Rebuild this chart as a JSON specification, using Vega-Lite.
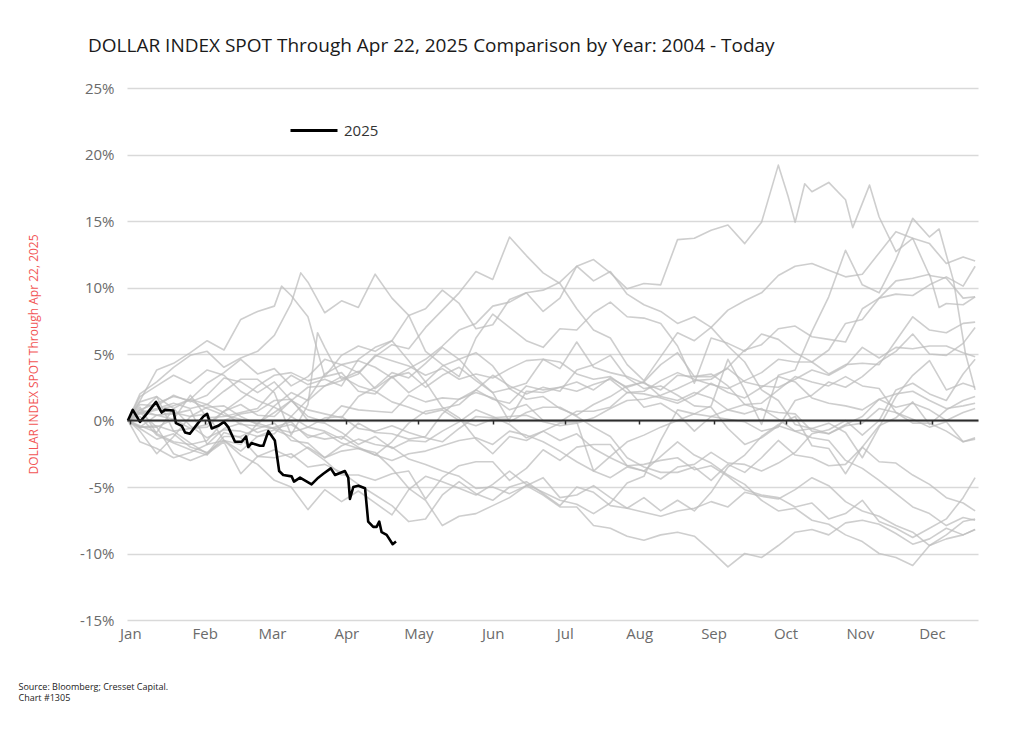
{
"$schema": "https://vega.github.io/schema/vega-lite/v6.json",
"autosize": {"type": "none"},
"width": 851,
"height": 532,
"padding": {"left": 127, "top": 88, "right": 46, "bottom": 122},
"background": "white",
"title": {"text": "DOLLAR INDEX SPOT Through Apr 22, 2025 Comparison by Year: 2004 - Today", "anchor": "start", "frame": "group", "dx": -39, "offset": 10, "baseline": "alphabetic", "font": "Open Sans", "fontSize": 19, "fontWeight": "normal", "color": "#1a1a1a"},
"config": {"view": {"stroke": null}, "font": "Open Sans"},
"datasets": {"dxy": [
{"year":"2004","day":-1,"pct":0},{"year":"2004","day":4,"pct":-0.8},{"year":"2004","day":11,"pct":-2.5},{"year":"2004","day":18,"pct":-1.2},{"year":"2004","day":25,"pct":0.3},{"year":"2004","day":32,"pct":0.5},{"year":"2004","day":39,"pct":-1.5},{"year":"2004","day":46,"pct":-1.8},{"year":"2004","day":53,"pct":-0.2},{"year":"2004","day":60,"pct":0.6},{"year":"2004","day":67,"pct":1.5},{"year":"2004","day":74,"pct":0.8},{"year":"2004","day":81,"pct":0.5},{"year":"2004","day":88,"pct":0.2},{"year":"2004","day":95,"pct":1.8},{"year":"2004","day":102,"pct":2.5},{"year":"2004","day":109,"pct":3.6},{"year":"2004","day":116,"pct":3.2},{"year":"2004","day":123,"pct":4.3},{"year":"2004","day":130,"pct":5.5},{"year":"2004","day":137,"pct":4.6},{"year":"2004","day":144,"pct":3.2},{"year":"2004","day":151,"pct":2.1},{"year":"2004","day":158,"pct":2.4},{"year":"2004","day":165,"pct":1.6},{"year":"2004","day":172,"pct":1.8},{"year":"2004","day":179,"pct":0.9},{"year":"2004","day":186,"pct":0.4},{"year":"2004","day":193,"pct":1.2},{"year":"2004","day":200,"pct":1.8},{"year":"2004","day":207,"pct":2.6},{"year":"2004","day":214,"pct":2.9},{"year":"2004","day":221,"pct":1.8},{"year":"2004","day":228,"pct":1.5},{"year":"2004","day":235,"pct":2.1},{"year":"2004","day":242,"pct":1.7},{"year":"2004","day":249,"pct":0.8},{"year":"2004","day":256,"pct":0.5},{"year":"2004","day":263,"pct":0.9},{"year":"2004","day":270,"pct":0.1},{"year":"2004","day":277,"pct":-0.8},{"year":"2004","day":284,"pct":-1.3},{"year":"2004","day":291,"pct":-1.5},{"year":"2004","day":298,"pct":-3.0},{"year":"2004","day":305,"pct":-3.6},{"year":"2004","day":312,"pct":-4.5},{"year":"2004","day":319,"pct":-5.5},{"year":"2004","day":326,"pct":-6.5},{"year":"2004","day":333,"pct":-7.0},{"year":"2004","day":340,"pct":-7.9},{"year":"2004","day":347,"pct":-7.3},{"year":"2004","day":352,"pct":-7.5},
{"year":"2005","day":-1,"pct":0},{"year":"2005","day":4,"pct":1.8},{"year":"2005","day":11,"pct":2.6},{"year":"2005","day":18,"pct":3.4},{"year":"2005","day":25,"pct":2.8},{"year":"2005","day":32,"pct":3.8},{"year":"2005","day":39,"pct":3.4},{"year":"2005","day":46,"pct":2.2},{"year":"2005","day":53,"pct":1.5},{"year":"2005","day":60,"pct":1.0},{"year":"2005","day":67,"pct":0.3},{"year":"2005","day":74,"pct":1.6},{"year":"2005","day":81,"pct":3.5},{"year":"2005","day":88,"pct":4.2},{"year":"2005","day":95,"pct":4.5},{"year":"2005","day":102,"pct":4.0},{"year":"2005","day":109,"pct":3.2},{"year":"2005","day":116,"pct":3.9},{"year":"2005","day":123,"pct":4.6},{"year":"2005","day":130,"pct":5.6},{"year":"2005","day":137,"pct":6.8},{"year":"2005","day":144,"pct":7.3},{"year":"2005","day":151,"pct":8.6},{"year":"2005","day":158,"pct":8.9},{"year":"2005","day":165,"pct":9.6},{"year":"2005","day":172,"pct":9.8},{"year":"2005","day":179,"pct":10.4},{"year":"2005","day":186,"pct":11.6},{"year":"2005","day":193,"pct":10.5},{"year":"2005","day":200,"pct":11.2},{"year":"2005","day":207,"pct":9.5},{"year":"2005","day":214,"pct":8.7},{"year":"2005","day":221,"pct":8.2},{"year":"2005","day":228,"pct":7.3},{"year":"2005","day":235,"pct":7.8},{"year":"2005","day":242,"pct":7.0},{"year":"2005","day":249,"pct":8.3},{"year":"2005","day":256,"pct":9.0},{"year":"2005","day":263,"pct":9.6},{"year":"2005","day":270,"pct":10.9},{"year":"2005","day":277,"pct":11.6},{"year":"2005","day":284,"pct":11.8},{"year":"2005","day":291,"pct":11.3},{"year":"2005","day":298,"pct":10.8},{"year":"2005","day":305,"pct":11.0},{"year":"2005","day":312,"pct":12.6},{"year":"2005","day":319,"pct":14.2},{"year":"2005","day":326,"pct":13.7},{"year":"2005","day":333,"pct":13.3},{"year":"2005","day":340,"pct":11.8},{"year":"2005","day":347,"pct":12.3},{"year":"2005","day":352,"pct":12.0},
{"year":"2006","day":-1,"pct":0},{"year":"2006","day":4,"pct":-1.6},{"year":"2006","day":11,"pct":-2.1},{"year":"2006","day":18,"pct":-2.8},{"year":"2006","day":25,"pct":-2.4},{"year":"2006","day":32,"pct":-1.8},{"year":"2006","day":39,"pct":-0.6},{"year":"2006","day":46,"pct":-0.2},{"year":"2006","day":53,"pct":-0.9},{"year":"2006","day":60,"pct":-0.5},{"year":"2006","day":67,"pct":-0.1},{"year":"2006","day":74,"pct":-1.3},{"year":"2006","day":81,"pct":-0.9},{"year":"2006","day":88,"pct":-1.7},{"year":"2006","day":95,"pct":-2.1},{"year":"2006","day":102,"pct":-2.4},{"year":"2006","day":109,"pct":-3.6},{"year":"2006","day":116,"pct":-5.1},{"year":"2006","day":123,"pct":-6.0},{"year":"2006","day":130,"pct":-7.9},{"year":"2006","day":137,"pct":-7.2},{"year":"2006","day":144,"pct":-7.0},{"year":"2006","day":151,"pct":-6.4},{"year":"2006","day":158,"pct":-5.8},{"year":"2006","day":165,"pct":-4.9},{"year":"2006","day":172,"pct":-4.3},{"year":"2006","day":179,"pct":-5.8},{"year":"2006","day":186,"pct":-5.6},{"year":"2006","day":193,"pct":-4.9},{"year":"2006","day":200,"pct":-5.8},{"year":"2006","day":207,"pct":-6.6},{"year":"2006","day":214,"pct":-6.9},{"year":"2006","day":221,"pct":-7.2},{"year":"2006","day":228,"pct":-6.8},{"year":"2006","day":235,"pct":-6.6},{"year":"2006","day":242,"pct":-6.1},{"year":"2006","day":249,"pct":-6.5},{"year":"2006","day":256,"pct":-5.4},{"year":"2006","day":263,"pct":-5.7},{"year":"2006","day":270,"pct":-5.9},{"year":"2006","day":277,"pct":-5.2},{"year":"2006","day":284,"pct":-4.3},{"year":"2006","day":291,"pct":-4.9},{"year":"2006","day":298,"pct":-6.1},{"year":"2006","day":305,"pct":-6.8},{"year":"2006","day":312,"pct":-7.2},{"year":"2006","day":319,"pct":-7.9},{"year":"2006","day":326,"pct":-8.4},{"year":"2006","day":333,"pct":-9.4},{"year":"2006","day":340,"pct":-8.9},{"year":"2006","day":347,"pct":-8.6},{"year":"2006","day":352,"pct":-8.2},
{"year":"2007","day":-1,"pct":0},{"year":"2007","day":4,"pct":0.8},{"year":"2007","day":11,"pct":1.3},{"year":"2007","day":18,"pct":1.8},{"year":"2007","day":25,"pct":1.5},{"year":"2007","day":32,"pct":0.9},{"year":"2007","day":39,"pct":0.4},{"year":"2007","day":46,"pct":0.1},{"year":"2007","day":53,"pct":-0.2},{"year":"2007","day":60,"pct":-0.6},{"year":"2007","day":67,"pct":-0.3},{"year":"2007","day":74,"pct":-1.1},{"year":"2007","day":81,"pct":-1.4},{"year":"2007","day":88,"pct":-1.2},{"year":"2007","day":95,"pct":-2.0},{"year":"2007","day":102,"pct":-2.6},{"year":"2007","day":109,"pct":-3.0},{"year":"2007","day":116,"pct":-2.5},{"year":"2007","day":123,"pct":-2.3},{"year":"2007","day":130,"pct":-1.9},{"year":"2007","day":137,"pct":-1.5},{"year":"2007","day":144,"pct":-1.3},{"year":"2007","day":151,"pct":-1.8},{"year":"2007","day":158,"pct":-0.8},{"year":"2007","day":165,"pct":-1.1},{"year":"2007","day":172,"pct":-1.6},{"year":"2007","day":179,"pct":-2.3},{"year":"2007","day":186,"pct":-3.1},{"year":"2007","day":193,"pct":-3.8},{"year":"2007","day":200,"pct":-4.3},{"year":"2007","day":207,"pct":-3.5},{"year":"2007","day":214,"pct":-3.8},{"year":"2007","day":221,"pct":-2.7},{"year":"2007","day":228,"pct":-1.6},{"year":"2007","day":235,"pct":-2.6},{"year":"2007","day":242,"pct":-3.2},{"year":"2007","day":249,"pct":-4.1},{"year":"2007","day":256,"pct":-4.8},{"year":"2007","day":263,"pct":-6.0},{"year":"2007","day":270,"pct":-6.8},{"year":"2007","day":277,"pct":-6.6},{"year":"2007","day":284,"pct":-7.5},{"year":"2007","day":291,"pct":-7.8},{"year":"2007","day":298,"pct":-8.6},{"year":"2007","day":305,"pct":-9.1},{"year":"2007","day":312,"pct":-10.0},{"year":"2007","day":319,"pct":-10.3},{"year":"2007","day":326,"pct":-10.9},{"year":"2007","day":333,"pct":-9.4},{"year":"2007","day":340,"pct":-8.6},{"year":"2007","day":347,"pct":-7.6},{"year":"2007","day":352,"pct":-7.4},
{"year":"2008","day":-1,"pct":0},{"year":"2008","day":4,"pct":-0.6},{"year":"2008","day":11,"pct":-1.4},{"year":"2008","day":18,"pct":-1.0},{"year":"2008","day":25,"pct":-2.0},{"year":"2008","day":32,"pct":-2.4},{"year":"2008","day":39,"pct":-1.5},{"year":"2008","day":46,"pct":-2.6},{"year":"2008","day":53,"pct":-3.3},{"year":"2008","day":60,"pct":-4.5},{"year":"2008","day":67,"pct":-5.0},{"year":"2008","day":74,"pct":-6.7},{"year":"2008","day":81,"pct":-5.2},{"year":"2008","day":88,"pct":-6.1},{"year":"2008","day":95,"pct":-5.3},{"year":"2008","day":102,"pct":-6.2},{"year":"2008","day":109,"pct":-7.1},{"year":"2008","day":116,"pct":-5.2},{"year":"2008","day":123,"pct":-4.2},{"year":"2008","day":130,"pct":-4.6},{"year":"2008","day":137,"pct":-5.1},{"year":"2008","day":144,"pct":-5.6},{"year":"2008","day":151,"pct":-4.8},{"year":"2008","day":158,"pct":-3.8},{"year":"2008","day":165,"pct":-4.8},{"year":"2008","day":172,"pct":-5.4},{"year":"2008","day":179,"pct":-6.0},{"year":"2008","day":186,"pct":-6.3},{"year":"2008","day":193,"pct":-7.0},{"year":"2008","day":200,"pct":-6.2},{"year":"2008","day":207,"pct":-4.7},{"year":"2008","day":214,"pct":-4.2},{"year":"2008","day":221,"pct":-1.5},{"year":"2008","day":228,"pct":0.8},{"year":"2008","day":235,"pct":0.5},{"year":"2008","day":242,"pct":1.1},{"year":"2008","day":249,"pct":4.6},{"year":"2008","day":256,"pct":2.3},{"year":"2008","day":263,"pct":-0.3},{"year":"2008","day":270,"pct":3.4},{"year":"2008","day":277,"pct":3.8},{"year":"2008","day":284,"pct":6.7},{"year":"2008","day":291,"pct":9.3},{"year":"2008","day":298,"pct":12.8},{"year":"2008","day":305,"pct":10.2},{"year":"2008","day":312,"pct":9.6},{"year":"2008","day":319,"pct":12.1},{"year":"2008","day":326,"pct":15.2},{"year":"2008","day":333,"pct":13.8},{"year":"2008","day":337,"pct":14.4},{"year":"2008","day":343,"pct":10.5},{"year":"2008","day":348,"pct":5.0},{"year":"2008","day":352,"pct":2.3},
{"year":"2009","day":-1,"pct":0},{"year":"2009","day":4,"pct":1.5},{"year":"2009","day":11,"pct":3.8},{"year":"2009","day":18,"pct":4.3},{"year":"2009","day":25,"pct":5.1},{"year":"2009","day":32,"pct":6.0},{"year":"2009","day":39,"pct":5.3},{"year":"2009","day":46,"pct":7.6},{"year":"2009","day":53,"pct":8.2},{"year":"2009","day":60,"pct":8.6},{"year":"2009","day":63,"pct":10.1},{"year":"2009","day":67,"pct":9.4},{"year":"2009","day":74,"pct":7.8},{"year":"2009","day":81,"pct":3.3},{"year":"2009","day":88,"pct":4.9},{"year":"2009","day":95,"pct":5.6},{"year":"2009","day":102,"pct":5.2},{"year":"2009","day":109,"pct":6.0},{"year":"2009","day":116,"pct":4.5},{"year":"2009","day":123,"pct":2.9},{"year":"2009","day":130,"pct":1.0},{"year":"2009","day":137,"pct":0.2},{"year":"2009","day":144,"pct":-1.4},{"year":"2009","day":151,"pct":-2.5},{"year":"2009","day":158,"pct":-1.2},{"year":"2009","day":165,"pct":-1.5},{"year":"2009","day":172,"pct":-0.8},{"year":"2009","day":179,"pct":-1.5},{"year":"2009","day":186,"pct":-1.0},{"year":"2009","day":193,"pct":-2.1},{"year":"2009","day":200,"pct":-2.8},{"year":"2009","day":207,"pct":-3.4},{"year":"2009","day":214,"pct":-3.3},{"year":"2009","day":221,"pct":-3.0},{"year":"2009","day":228,"pct":-2.8},{"year":"2009","day":235,"pct":-3.7},{"year":"2009","day":242,"pct":-3.4},{"year":"2009","day":249,"pct":-4.2},{"year":"2009","day":256,"pct":-5.2},{"year":"2009","day":263,"pct":-5.6},{"year":"2009","day":270,"pct":-5.8},{"year":"2009","day":277,"pct":-6.5},{"year":"2009","day":284,"pct":-6.2},{"year":"2009","day":291,"pct":-7.4},{"year":"2009","day":298,"pct":-7.0},{"year":"2009","day":305,"pct":-6.0},{"year":"2009","day":312,"pct":-7.6},{"year":"2009","day":319,"pct":-8.1},{"year":"2009","day":326,"pct":-8.8},{"year":"2009","day":333,"pct":-8.1},{"year":"2009","day":340,"pct":-7.4},{"year":"2009","day":347,"pct":-5.8},{"year":"2009","day":352,"pct":-4.3},
{"year":"2010","day":-1,"pct":0},{"year":"2010","day":4,"pct":-0.4},{"year":"2010","day":11,"pct":-0.9},{"year":"2010","day":18,"pct":0.9},{"year":"2010","day":25,"pct":1.6},{"year":"2010","day":32,"pct":2.8},{"year":"2010","day":39,"pct":3.6},{"year":"2010","day":46,"pct":4.6},{"year":"2010","day":53,"pct":3.5},{"year":"2010","day":60,"pct":3.9},{"year":"2010","day":67,"pct":2.6},{"year":"2010","day":74,"pct":3.3},{"year":"2010","day":81,"pct":4.6},{"year":"2010","day":88,"pct":4.2},{"year":"2010","day":95,"pct":3.6},{"year":"2010","day":102,"pct":4.8},{"year":"2010","day":109,"pct":5.7},{"year":"2010","day":116,"pct":5.4},{"year":"2010","day":123,"pct":7.0},{"year":"2010","day":130,"pct":8.3},{"year":"2010","day":137,"pct":9.6},{"year":"2010","day":144,"pct":11.2},{"year":"2010","day":151,"pct":10.6},{"year":"2010","day":158,"pct":13.8},{"year":"2010","day":165,"pct":12.4},{"year":"2010","day":172,"pct":11.1},{"year":"2010","day":179,"pct":10.3},{"year":"2010","day":186,"pct":8.4},{"year":"2010","day":193,"pct":6.8},{"year":"2010","day":200,"pct":6.2},{"year":"2010","day":207,"pct":4.2},{"year":"2010","day":214,"pct":3.0},{"year":"2010","day":221,"pct":4.8},{"year":"2010","day":228,"pct":6.6},{"year":"2010","day":235,"pct":6.0},{"year":"2010","day":242,"pct":7.0},{"year":"2010","day":249,"pct":5.6},{"year":"2010","day":256,"pct":4.4},{"year":"2010","day":263,"pct":2.3},{"year":"2010","day":270,"pct":1.5},{"year":"2010","day":277,"pct":-0.3},{"year":"2010","day":284,"pct":-0.6},{"year":"2010","day":291,"pct":-0.2},{"year":"2010","day":298,"pct":-0.9},{"year":"2010","day":305,"pct":-2.8},{"year":"2010","day":312,"pct":-0.5},{"year":"2010","day":319,"pct":1.8},{"year":"2010","day":326,"pct":3.4},{"year":"2010","day":333,"pct":4.5},{"year":"2010","day":340,"pct":2.3},{"year":"2010","day":347,"pct":2.8},{"year":"2010","day":352,"pct":2.5},
{"year":"2011","day":-1,"pct":0},{"year":"2011","day":4,"pct":1.4},{"year":"2011","day":11,"pct":1.8},{"year":"2011","day":18,"pct":-0.8},{"year":"2011","day":25,"pct":-1.7},{"year":"2011","day":32,"pct":-2.5},{"year":"2011","day":39,"pct":-0.9},{"year":"2011","day":46,"pct":-1.3},{"year":"2011","day":53,"pct":-2.7},{"year":"2011","day":60,"pct":-2.8},{"year":"2011","day":67,"pct":-2.5},{"year":"2011","day":74,"pct":-3.5},{"year":"2011","day":81,"pct":-3.3},{"year":"2011","day":88,"pct":-3.9},{"year":"2011","day":95,"pct":-4.8},{"year":"2011","day":102,"pct":-5.6},{"year":"2011","day":109,"pct":-6.4},{"year":"2011","day":116,"pct":-7.6},{"year":"2011","day":123,"pct":-7.4},{"year":"2011","day":130,"pct":-5.6},{"year":"2011","day":137,"pct":-4.6},{"year":"2011","day":144,"pct":-5.5},{"year":"2011","day":151,"pct":-6.0},{"year":"2011","day":158,"pct":-5.0},{"year":"2011","day":165,"pct":-4.6},{"year":"2011","day":172,"pct":-5.5},{"year":"2011","day":179,"pct":-6.4},{"year":"2011","day":186,"pct":-5.0},{"year":"2011","day":193,"pct":-5.4},{"year":"2011","day":200,"pct":-6.4},{"year":"2011","day":207,"pct":-6.6},{"year":"2011","day":214,"pct":-5.8},{"year":"2011","day":221,"pct":-6.8},{"year":"2011","day":228,"pct":-6.0},{"year":"2011","day":235,"pct":-6.8},{"year":"2011","day":242,"pct":-5.4},{"year":"2011","day":249,"pct":-3.5},{"year":"2011","day":256,"pct":-2.6},{"year":"2011","day":263,"pct":-1.2},{"year":"2011","day":270,"pct":-0.3},{"year":"2011","day":277,"pct":0.3},{"year":"2011","day":284,"pct":-1.9},{"year":"2011","day":291,"pct":-2.1},{"year":"2011","day":298,"pct":-4.0},{"year":"2011","day":305,"pct":-2.0},{"year":"2011","day":312,"pct":-0.4},{"year":"2011","day":319,"pct":0.2},{"year":"2011","day":326,"pct":1.4},{"year":"2011","day":333,"pct":-0.3},{"year":"2011","day":340,"pct":0.8},{"year":"2011","day":347,"pct":1.5},{"year":"2011","day":352,"pct":1.8},
{"year":"2012","day":-1,"pct":0},{"year":"2012","day":4,"pct":0.6},{"year":"2012","day":11,"pct":1.8},{"year":"2012","day":18,"pct":0.9},{"year":"2012","day":25,"pct":-0.4},{"year":"2012","day":32,"pct":-1.3},{"year":"2012","day":39,"pct":-0.7},{"year":"2012","day":46,"pct":-0.8},{"year":"2012","day":53,"pct":-1.2},{"year":"2012","day":60,"pct":-1.0},{"year":"2012","day":67,"pct":0.3},{"year":"2012","day":74,"pct":-0.5},{"year":"2012","day":81,"pct":-0.8},{"year":"2012","day":88,"pct":-1.4},{"year":"2012","day":95,"pct":-0.2},{"year":"2012","day":102,"pct":-0.9},{"year":"2012","day":109,"pct":-1.0},{"year":"2012","day":116,"pct":-1.4},{"year":"2012","day":123,"pct":-1.2},{"year":"2012","day":130,"pct":0.5},{"year":"2012","day":137,"pct":1.6},{"year":"2012","day":144,"pct":2.3},{"year":"2012","day":151,"pct":3.4},{"year":"2012","day":158,"pct":2.6},{"year":"2012","day":165,"pct":2.0},{"year":"2012","day":172,"pct":2.5},{"year":"2012","day":179,"pct":2.2},{"year":"2012","day":186,"pct":3.8},{"year":"2012","day":193,"pct":4.2},{"year":"2012","day":200,"pct":4.9},{"year":"2012","day":207,"pct":3.2},{"year":"2012","day":214,"pct":2.4},{"year":"2012","day":221,"pct":2.6},{"year":"2012","day":228,"pct":1.9},{"year":"2012","day":235,"pct":1.1},{"year":"2012","day":242,"pct":1.0},{"year":"2012","day":249,"pct":-0.6},{"year":"2012","day":256,"pct":-1.8},{"year":"2012","day":263,"pct":-1.3},{"year":"2012","day":270,"pct":-0.4},{"year":"2012","day":277,"pct":-0.8},{"year":"2012","day":284,"pct":-0.6},{"year":"2012","day":291,"pct":-1.0},{"year":"2012","day":298,"pct":-0.4},{"year":"2012","day":305,"pct":-0.2},{"year":"2012","day":312,"pct":0.9},{"year":"2012","day":319,"pct":0.6},{"year":"2012","day":326,"pct":-0.2},{"year":"2012","day":333,"pct":-0.2},{"year":"2012","day":340,"pct":-0.8},{"year":"2012","day":347,"pct":-1.6},{"year":"2012","day":352,"pct":-1.4},
{"year":"2013","day":-1,"pct":0},{"year":"2013","day":4,"pct":0.8},{"year":"2013","day":11,"pct":0.4},{"year":"2013","day":18,"pct":0.1},{"year":"2013","day":25,"pct":-0.6},{"year":"2013","day":32,"pct":-0.3},{"year":"2013","day":39,"pct":0.7},{"year":"2013","day":46,"pct":1.6},{"year":"2013","day":53,"pct":2.6},{"year":"2013","day":60,"pct":3.4},{"year":"2013","day":67,"pct":3.6},{"year":"2013","day":74,"pct":3.0},{"year":"2013","day":81,"pct":3.3},{"year":"2013","day":88,"pct":3.6},{"year":"2013","day":95,"pct":2.2},{"year":"2013","day":102,"pct":2.0},{"year":"2013","day":109,"pct":3.3},{"year":"2013","day":116,"pct":2.1},{"year":"2013","day":123,"pct":2.9},{"year":"2013","day":130,"pct":4.1},{"year":"2013","day":137,"pct":4.6},{"year":"2013","day":144,"pct":5.1},{"year":"2013","day":151,"pct":4.1},{"year":"2013","day":158,"pct":2.4},{"year":"2013","day":165,"pct":2.8},{"year":"2013","day":172,"pct":4.6},{"year":"2013","day":179,"pct":3.9},{"year":"2013","day":186,"pct":5.9},{"year":"2013","day":193,"pct":4.0},{"year":"2013","day":200,"pct":3.6},{"year":"2013","day":207,"pct":3.3},{"year":"2013","day":214,"pct":2.8},{"year":"2013","day":221,"pct":2.3},{"year":"2013","day":228,"pct":3.4},{"year":"2013","day":235,"pct":3.3},{"year":"2013","day":242,"pct":3.5},{"year":"2013","day":249,"pct":2.6},{"year":"2013","day":256,"pct":1.2},{"year":"2013","day":263,"pct":0.8},{"year":"2013","day":270,"pct":0.6},{"year":"2013","day":277,"pct":0.5},{"year":"2013","day":284,"pct":-0.8},{"year":"2013","day":291,"pct":-1.0},{"year":"2013","day":298,"pct":-0.3},{"year":"2013","day":305,"pct":0.3},{"year":"2013","day":312,"pct":1.6},{"year":"2013","day":319,"pct":1.0},{"year":"2013","day":326,"pct":1.3},{"year":"2013","day":333,"pct":0.8},{"year":"2013","day":340,"pct":0.0},{"year":"2013","day":347,"pct":0.6},{"year":"2013","day":352,"pct":0.9},
{"year":"2014","day":-1,"pct":0},{"year":"2014","day":4,"pct":0.6},{"year":"2014","day":11,"pct":0.9},{"year":"2014","day":18,"pct":1.3},{"year":"2014","day":25,"pct":0.9},{"year":"2014","day":32,"pct":1.2},{"year":"2014","day":39,"pct":0.6},{"year":"2014","day":46,"pct":-0.3},{"year":"2014","day":53,"pct":-0.4},{"year":"2014","day":60,"pct":-0.6},{"year":"2014","day":67,"pct":-0.9},{"year":"2014","day":74,"pct":-0.5},{"year":"2014","day":81,"pct":0.2},{"year":"2014","day":88,"pct":0.3},{"year":"2014","day":95,"pct":-0.6},{"year":"2014","day":102,"pct":-0.8},{"year":"2014","day":109,"pct":-0.4},{"year":"2014","day":116,"pct":-0.9},{"year":"2014","day":123,"pct":-1.3},{"year":"2014","day":130,"pct":-1.6},{"year":"2014","day":137,"pct":-0.6},{"year":"2014","day":144,"pct":0.3},{"year":"2014","day":151,"pct":0.2},{"year":"2014","day":158,"pct":0.3},{"year":"2014","day":165,"pct":0.4},{"year":"2014","day":172,"pct":-0.1},{"year":"2014","day":179,"pct":-0.4},{"year":"2014","day":186,"pct":-0.2},{"year":"2014","day":193,"pct":0.2},{"year":"2014","day":200,"pct":0.9},{"year":"2014","day":207,"pct":1.5},{"year":"2014","day":214,"pct":1.6},{"year":"2014","day":221,"pct":1.9},{"year":"2014","day":228,"pct":2.4},{"year":"2014","day":235,"pct":3.0},{"year":"2014","day":242,"pct":3.1},{"year":"2014","day":249,"pct":4.0},{"year":"2014","day":256,"pct":5.3},{"year":"2014","day":263,"pct":5.7},{"year":"2014","day":270,"pct":6.9},{"year":"2014","day":277,"pct":7.1},{"year":"2014","day":284,"pct":6.3},{"year":"2014","day":291,"pct":6.1},{"year":"2014","day":298,"pct":5.9},{"year":"2014","day":305,"pct":8.4},{"year":"2014","day":312,"pct":9.2},{"year":"2014","day":319,"pct":9.5},{"year":"2014","day":326,"pct":9.4},{"year":"2014","day":333,"pct":10.2},{"year":"2014","day":340,"pct":10.8},{"year":"2014","day":347,"pct":10.1},{"year":"2014","day":352,"pct":11.6},
{"year":"2015","day":-1,"pct":0},{"year":"2015","day":4,"pct":2.0},{"year":"2015","day":11,"pct":2.9},{"year":"2015","day":18,"pct":4.0},{"year":"2015","day":25,"pct":4.9},{"year":"2015","day":32,"pct":5.2},{"year":"2015","day":39,"pct":4.0},{"year":"2015","day":46,"pct":4.7},{"year":"2015","day":53,"pct":5.2},{"year":"2015","day":60,"pct":6.4},{"year":"2015","day":67,"pct":8.8},{"year":"2015","day":71,"pct":11.1},{"year":"2015","day":74,"pct":10.4},{"year":"2015","day":81,"pct":8.1},{"year":"2015","day":88,"pct":9.0},{"year":"2015","day":95,"pct":8.5},{"year":"2015","day":102,"pct":11.0},{"year":"2015","day":109,"pct":9.2},{"year":"2015","day":116,"pct":7.9},{"year":"2015","day":123,"pct":5.2},{"year":"2015","day":130,"pct":4.2},{"year":"2015","day":137,"pct":3.3},{"year":"2015","day":144,"pct":6.2},{"year":"2015","day":151,"pct":8.0},{"year":"2015","day":158,"pct":7.0},{"year":"2015","day":165,"pct":6.0},{"year":"2015","day":172,"pct":5.5},{"year":"2015","day":179,"pct":6.9},{"year":"2015","day":186,"pct":6.8},{"year":"2015","day":193,"pct":8.1},{"year":"2015","day":200,"pct":8.9},{"year":"2015","day":207,"pct":7.8},{"year":"2015","day":214,"pct":7.7},{"year":"2015","day":221,"pct":7.3},{"year":"2015","day":228,"pct":5.6},{"year":"2015","day":235,"pct":2.8},{"year":"2015","day":242,"pct":6.2},{"year":"2015","day":249,"pct":5.8},{"year":"2015","day":256,"pct":5.2},{"year":"2015","day":263,"pct":6.5},{"year":"2015","day":270,"pct":6.1},{"year":"2015","day":277,"pct":5.1},{"year":"2015","day":284,"pct":4.4},{"year":"2015","day":291,"pct":5.3},{"year":"2015","day":298,"pct":7.3},{"year":"2015","day":305,"pct":7.6},{"year":"2015","day":312,"pct":9.2},{"year":"2015","day":319,"pct":10.5},{"year":"2015","day":326,"pct":10.7},{"year":"2015","day":333,"pct":11.0},{"year":"2015","day":337,"pct":8.5},{"year":"2015","day":340,"pct":8.8},{"year":"2015","day":347,"pct":8.7},{"year":"2015","day":352,"pct":9.3},
{"year":"2016","day":-1,"pct":0},{"year":"2016","day":4,"pct":0.6},{"year":"2016","day":11,"pct":0.4},{"year":"2016","day":18,"pct":0.5},{"year":"2016","day":25,"pct":0.8},{"year":"2016","day":32,"pct":-1.8},{"year":"2016","day":39,"pct":-1.5},{"year":"2016","day":46,"pct":-2.3},{"year":"2016","day":53,"pct":-1.2},{"year":"2016","day":60,"pct":-0.7},{"year":"2016","day":67,"pct":-1.2},{"year":"2016","day":74,"pct":-2.1},{"year":"2016","day":81,"pct":-3.0},{"year":"2016","day":88,"pct":-4.1},{"year":"2016","day":95,"pct":-4.1},{"year":"2016","day":102,"pct":-4.5},{"year":"2016","day":109,"pct":-4.0},{"year":"2016","day":116,"pct":-3.8},{"year":"2016","day":123,"pct":-5.9},{"year":"2016","day":130,"pct":-4.3},{"year":"2016","day":137,"pct":-3.4},{"year":"2016","day":144,"pct":-3.1},{"year":"2016","day":151,"pct":-3.1},{"year":"2016","day":158,"pct":-4.5},{"year":"2016","day":165,"pct":-3.6},{"year":"2016","day":172,"pct":-2.2},{"year":"2016","day":179,"pct":-3.0},{"year":"2016","day":186,"pct":-2.0},{"year":"2016","day":193,"pct":-1.8},{"year":"2016","day":200,"pct":-1.8},{"year":"2016","day":207,"pct":-3.4},{"year":"2016","day":214,"pct":-3.8},{"year":"2016","day":221,"pct":-4.4},{"year":"2016","day":228,"pct":-3.5},{"year":"2016","day":235,"pct":-3.3},{"year":"2016","day":242,"pct":-2.4},{"year":"2016","day":249,"pct":-3.2},{"year":"2016","day":256,"pct":-3.3},{"year":"2016","day":263,"pct":-3.8},{"year":"2016","day":270,"pct":-3.2},{"year":"2016","day":277,"pct":-2.4},{"year":"2016","day":284,"pct":-1.0},{"year":"2016","day":291,"pct":-0.7},{"year":"2016","day":298,"pct":0.0},{"year":"2016","day":305,"pct":-1.1},{"year":"2016","day":312,"pct":0.0},{"year":"2016","day":319,"pct":2.3},{"year":"2016","day":326,"pct":2.8},{"year":"2016","day":333,"pct":2.0},{"year":"2016","day":340,"pct":1.5},{"year":"2016","day":347,"pct":3.5},{"year":"2016","day":352,"pct":4.6},
{"year":"2017","day":-1,"pct":0},{"year":"2017","day":4,"pct":0.3},{"year":"2017","day":11,"pct":-1.1},{"year":"2017","day":18,"pct":-1.7},{"year":"2017","day":25,"pct":-2.2},{"year":"2017","day":32,"pct":-2.6},{"year":"2017","day":39,"pct":-1.2},{"year":"2017","day":46,"pct":-1.2},{"year":"2017","day":53,"pct":-0.6},{"year":"2017","day":60,"pct":-0.2},{"year":"2017","day":67,"pct":-1.5},{"year":"2017","day":74,"pct":-1.7},{"year":"2017","day":81,"pct":-2.8},{"year":"2017","day":88,"pct":-1.9},{"year":"2017","day":95,"pct":-1.4},{"year":"2017","day":102,"pct":-1.8},{"year":"2017","day":109,"pct":-2.0},{"year":"2017","day":116,"pct":-2.9},{"year":"2017","day":123,"pct":-3.3},{"year":"2017","day":130,"pct":-3.8},{"year":"2017","day":137,"pct":-4.2},{"year":"2017","day":144,"pct":-5.1},{"year":"2017","day":151,"pct":-5.0},{"year":"2017","day":158,"pct":-5.5},{"year":"2017","day":165,"pct":-4.9},{"year":"2017","day":172,"pct":-5.6},{"year":"2017","day":179,"pct":-6.5},{"year":"2017","day":186,"pct":-6.5},{"year":"2017","day":193,"pct":-7.9},{"year":"2017","day":200,"pct":-8.1},{"year":"2017","day":207,"pct":-8.7},{"year":"2017","day":214,"pct":-9.0},{"year":"2017","day":221,"pct":-8.6},{"year":"2017","day":228,"pct":-8.4},{"year":"2017","day":235,"pct":-8.7},{"year":"2017","day":242,"pct":-9.8},{"year":"2017","day":249,"pct":-11.0},{"year":"2017","day":256,"pct":-10.0},{"year":"2017","day":263,"pct":-10.3},{"year":"2017","day":270,"pct":-9.4},{"year":"2017","day":277,"pct":-8.4},{"year":"2017","day":284,"pct":-8.2},{"year":"2017","day":291,"pct":-8.6},{"year":"2017","day":298,"pct":-7.7},{"year":"2017","day":305,"pct":-7.5},{"year":"2017","day":312,"pct":-7.8},{"year":"2017","day":319,"pct":-8.5},{"year":"2017","day":326,"pct":-9.3},{"year":"2017","day":333,"pct":-8.9},{"year":"2017","day":340,"pct":-8.1},{"year":"2017","day":347,"pct":-8.6},{"year":"2017","day":352,"pct":-8.2},
{"year":"2018","day":-1,"pct":0},{"year":"2018","day":4,"pct":-0.5},{"year":"2018","day":11,"pct":-0.5},{"year":"2018","day":18,"pct":-2.5},{"year":"2018","day":25,"pct":-3.0},{"year":"2018","day":32,"pct":-2.5},{"year":"2018","day":39,"pct":-1.6},{"year":"2018","day":46,"pct":-4.0},{"year":"2018","day":53,"pct":-2.7},{"year":"2018","day":60,"pct":-2.2},{"year":"2018","day":67,"pct":-2.8},{"year":"2018","day":74,"pct":-2.0},{"year":"2018","day":81,"pct":-2.8},{"year":"2018","day":88,"pct":-2.3},{"year":"2018","day":95,"pct":-2.1},{"year":"2018","day":102,"pct":-2.6},{"year":"2018","day":109,"pct":-1.6},{"year":"2018","day":116,"pct":-0.2},{"year":"2018","day":123,"pct":0.7},{"year":"2018","day":130,"pct":0.9},{"year":"2018","day":137,"pct":1.2},{"year":"2018","day":144,"pct":2.3},{"year":"2018","day":151,"pct":1.6},{"year":"2018","day":158,"pct":1.3},{"year":"2018","day":165,"pct":2.6},{"year":"2018","day":172,"pct":2.3},{"year":"2018","day":179,"pct":2.5},{"year":"2018","day":186,"pct":2.9},{"year":"2018","day":193,"pct":2.3},{"year":"2018","day":200,"pct":3.2},{"year":"2018","day":207,"pct":2.5},{"year":"2018","day":214,"pct":2.9},{"year":"2018","day":221,"pct":4.2},{"year":"2018","day":228,"pct":5.1},{"year":"2018","day":235,"pct":3.3},{"year":"2018","day":242,"pct":3.3},{"year":"2018","day":249,"pct":3.9},{"year":"2018","day":256,"pct":2.9},{"year":"2018","day":263,"pct":2.6},{"year":"2018","day":270,"pct":2.5},{"year":"2018","day":277,"pct":3.1},{"year":"2018","day":284,"pct":3.8},{"year":"2018","day":291,"pct":3.4},{"year":"2018","day":298,"pct":4.1},{"year":"2018","day":305,"pct":5.5},{"year":"2018","day":312,"pct":4.7},{"year":"2018","day":319,"pct":5.5},{"year":"2018","day":326,"pct":5.4},{"year":"2018","day":333,"pct":5.6},{"year":"2018","day":340,"pct":5.6},{"year":"2018","day":347,"pct":5.1},{"year":"2018","day":352,"pct":4.8},
{"year":"2019","day":-1,"pct":0},{"year":"2019","day":4,"pct":-0.5},{"year":"2019","day":11,"pct":-0.4},{"year":"2019","day":18,"pct":-0.8},{"year":"2019","day":25,"pct":-0.6},{"year":"2019","day":32,"pct":-0.5},{"year":"2019","day":39,"pct":0.7},{"year":"2019","day":46,"pct":1.2},{"year":"2019","day":53,"pct":0.4},{"year":"2019","day":60,"pct":0.3},{"year":"2019","day":67,"pct":1.5},{"year":"2019","day":74,"pct":0.3},{"year":"2019","day":81,"pct":-0.1},{"year":"2019","day":88,"pct":1.1},{"year":"2019","day":95,"pct":0.8},{"year":"2019","day":102,"pct":0.7},{"year":"2019","day":109,"pct":0.6},{"year":"2019","day":116,"pct":1.9},{"year":"2019","day":123,"pct":1.4},{"year":"2019","day":130,"pct":1.7},{"year":"2019","day":137,"pct":1.6},{"year":"2019","day":144,"pct":2.1},{"year":"2019","day":151,"pct":1.7},{"year":"2019","day":158,"pct":0.8},{"year":"2019","day":165,"pct":1.2},{"year":"2019","day":172,"pct":0.0},{"year":"2019","day":179,"pct":-0.1},{"year":"2019","day":186,"pct":0.7},{"year":"2019","day":193,"pct":0.7},{"year":"2019","day":200,"pct":1.0},{"year":"2019","day":207,"pct":2.1},{"year":"2019","day":214,"pct":2.0},{"year":"2019","day":221,"pct":1.7},{"year":"2019","day":228,"pct":1.3},{"year":"2019","day":235,"pct":1.9},{"year":"2019","day":242,"pct":2.8},{"year":"2019","day":249,"pct":2.1},{"year":"2019","day":256,"pct":1.7},{"year":"2019","day":263,"pct":2.5},{"year":"2019","day":270,"pct":3.3},{"year":"2019","day":277,"pct":2.9},{"year":"2019","day":284,"pct":1.7},{"year":"2019","day":291,"pct":1.3},{"year":"2019","day":298,"pct":1.1},{"year":"2019","day":305,"pct":0.8},{"year":"2019","day":312,"pct":1.6},{"year":"2019","day":319,"pct":2.0},{"year":"2019","day":326,"pct":2.2},{"year":"2019","day":333,"pct":1.5},{"year":"2019","day":340,"pct":0.9},{"year":"2019","day":347,"pct":1.1},{"year":"2019","day":352,"pct":1.3},
{"year":"2020","day":-1,"pct":0},{"year":"2020","day":4,"pct":0.5},{"year":"2020","day":11,"pct":0.8},{"year":"2020","day":18,"pct":1.1},{"year":"2020","day":25,"pct":1.6},{"year":"2020","day":32,"pct":1.2},{"year":"2020","day":39,"pct":2.2},{"year":"2020","day":46,"pct":3.1},{"year":"2020","day":53,"pct":3.1},{"year":"2020","day":60,"pct":2.1},{"year":"2020","day":67,"pct":-1.1},{"year":"2020","day":74,"pct":1.2},{"year":"2020","day":78,"pct":6.6},{"year":"2020","day":81,"pct":5.5},{"year":"2020","day":88,"pct":3.1},{"year":"2020","day":95,"pct":3.7},{"year":"2020","day":102,"pct":2.4},{"year":"2020","day":109,"pct":3.3},{"year":"2020","day":116,"pct":3.6},{"year":"2020","day":123,"pct":2.5},{"year":"2020","day":130,"pct":3.4},{"year":"2020","day":137,"pct":4.0},{"year":"2020","day":144,"pct":3.0},{"year":"2020","day":151,"pct":2.1},{"year":"2020","day":158,"pct":-0.1},{"year":"2020","day":165,"pct":0.6},{"year":"2020","day":172,"pct":1.0},{"year":"2020","day":179,"pct":1.0},{"year":"2020","day":186,"pct":0.3},{"year":"2020","day":193,"pct":-0.5},{"year":"2020","day":200,"pct":-1.2},{"year":"2020","day":207,"pct":-2.8},{"year":"2020","day":214,"pct":-3.5},{"year":"2020","day":221,"pct":-3.9},{"year":"2020","day":228,"pct":-3.9},{"year":"2020","day":235,"pct":-3.5},{"year":"2020","day":242,"pct":-4.5},{"year":"2020","day":249,"pct":-3.3},{"year":"2020","day":256,"pct":-3.9},{"year":"2020","day":263,"pct":-2.8},{"year":"2020","day":270,"pct":-1.5},{"year":"2020","day":277,"pct":-2.6},{"year":"2020","day":284,"pct":-2.8},{"year":"2020","day":291,"pct":-3.4},{"year":"2020","day":298,"pct":-3.3},{"year":"2020","day":305,"pct":-2.0},{"year":"2020","day":312,"pct":-3.1},{"year":"2020","day":319,"pct":-3.2},{"year":"2020","day":326,"pct":-4.1},{"year":"2020","day":333,"pct":-4.8},{"year":"2020","day":340,"pct":-5.8},{"year":"2020","day":347,"pct":-6.2},{"year":"2020","day":352,"pct":-6.8},
{"year":"2021","day":-1,"pct":0},{"year":"2021","day":4,"pct":-0.5},{"year":"2021","day":11,"pct":0.4},{"year":"2021","day":18,"pct":0.6},{"year":"2021","day":25,"pct":0.3},{"year":"2021","day":32,"pct":1.0},{"year":"2021","day":39,"pct":1.1},{"year":"2021","day":46,"pct":0.3},{"year":"2021","day":53,"pct":-0.3},{"year":"2021","day":60,"pct":1.1},{"year":"2021","day":67,"pct":2.1},{"year":"2021","day":74,"pct":1.5},{"year":"2021","day":81,"pct":2.6},{"year":"2021","day":88,"pct":3.3},{"year":"2021","day":95,"pct":2.6},{"year":"2021","day":102,"pct":2.2},{"year":"2021","day":109,"pct":1.4},{"year":"2021","day":116,"pct":1.0},{"year":"2021","day":123,"pct":0.5},{"year":"2021","day":130,"pct":0.8},{"year":"2021","day":137,"pct":0.0},{"year":"2021","day":144,"pct":-0.4},{"year":"2021","day":151,"pct":0.1},{"year":"2021","day":158,"pct":0.1},{"year":"2021","day":165,"pct":2.2},{"year":"2021","day":172,"pct":2.1},{"year":"2021","day":179,"pct":2.5},{"year":"2021","day":186,"pct":2.2},{"year":"2021","day":193,"pct":2.7},{"year":"2021","day":200,"pct":3.1},{"year":"2021","day":207,"pct":2.1},{"year":"2021","day":214,"pct":2.2},{"year":"2021","day":221,"pct":3.0},{"year":"2021","day":228,"pct":3.6},{"year":"2021","day":235,"pct":3.1},{"year":"2021","day":242,"pct":2.7},{"year":"2021","day":249,"pct":2.4},{"year":"2021","day":256,"pct":3.0},{"year":"2021","day":263,"pct":3.6},{"year":"2021","day":270,"pct":4.6},{"year":"2021","day":277,"pct":4.4},{"year":"2021","day":284,"pct":4.4},{"year":"2021","day":291,"pct":3.5},{"year":"2021","day":298,"pct":4.2},{"year":"2021","day":305,"pct":4.3},{"year":"2021","day":312,"pct":4.2},{"year":"2021","day":319,"pct":6.0},{"year":"2021","day":326,"pct":7.8},{"year":"2021","day":333,"pct":6.8},{"year":"2021","day":340,"pct":6.6},{"year":"2021","day":347,"pct":7.3},{"year":"2021","day":352,"pct":7.4},
{"year":"2022","day":-1,"pct":0},{"year":"2022","day":4,"pct":0.6},{"year":"2022","day":11,"pct":-0.5},{"year":"2022","day":18,"pct":0.1},{"year":"2022","day":25,"pct":1.9},{"year":"2022","day":32,"pct":0.2},{"year":"2022","day":39,"pct":0.3},{"year":"2022","day":46,"pct":0.6},{"year":"2022","day":53,"pct":0.9},{"year":"2022","day":60,"pct":2.3},{"year":"2022","day":67,"pct":3.4},{"year":"2022","day":74,"pct":2.7},{"year":"2022","day":81,"pct":3.1},{"year":"2022","day":88,"pct":2.6},{"year":"2022","day":95,"pct":4.6},{"year":"2022","day":102,"pct":5.5},{"year":"2022","day":109,"pct":6.0},{"year":"2022","day":116,"pct":7.9},{"year":"2022","day":123,"pct":8.4},{"year":"2022","day":130,"pct":9.8},{"year":"2022","day":137,"pct":8.8},{"year":"2022","day":144,"pct":6.9},{"year":"2022","day":151,"pct":7.2},{"year":"2022","day":158,"pct":9.1},{"year":"2022","day":165,"pct":9.6},{"year":"2022","day":172,"pct":8.2},{"year":"2022","day":179,"pct":9.2},{"year":"2022","day":186,"pct":11.6},{"year":"2022","day":193,"pct":12.1},{"year":"2022","day":200,"pct":11.1},{"year":"2022","day":207,"pct":9.9},{"year":"2022","day":214,"pct":10.3},{"year":"2022","day":221,"pct":10.2},{"year":"2022","day":228,"pct":13.6},{"year":"2022","day":235,"pct":13.7},{"year":"2022","day":242,"pct":14.3},{"year":"2022","day":249,"pct":14.7},{"year":"2022","day":256,"pct":13.3},{"year":"2022","day":263,"pct":14.9},{"year":"2022","day":270,"pct":19.2},{"year":"2022","day":274,"pct":16.9},{"year":"2022","day":277,"pct":14.9},{"year":"2022","day":281,"pct":17.8},{"year":"2022","day":284,"pct":17.2},{"year":"2022","day":291,"pct":17.9},{"year":"2022","day":298,"pct":16.6},{"year":"2022","day":301,"pct":14.5},{"year":"2022","day":308,"pct":17.7},{"year":"2022","day":312,"pct":15.3},{"year":"2022","day":319,"pct":12.7},{"year":"2022","day":326,"pct":13.7},{"year":"2022","day":333,"pct":10.9},{"year":"2022","day":340,"pct":10.7},{"year":"2022","day":347,"pct":9.2},{"year":"2022","day":352,"pct":9.3},
{"year":"2023","day":-1,"pct":0},{"year":"2023","day":4,"pct":1.0},{"year":"2023","day":11,"pct":-1.0},{"year":"2023","day":18,"pct":-1.6},{"year":"2023","day":25,"pct":-1.8},{"year":"2023","day":32,"pct":-1.5},{"year":"2023","day":39,"pct":0.0},{"year":"2023","day":46,"pct":0.5},{"year":"2023","day":53,"pct":0.7},{"year":"2023","day":60,"pct":1.5},{"year":"2023","day":67,"pct":1.6},{"year":"2023","day":74,"pct":0.0},{"year":"2023","day":81,"pct":-0.2},{"year":"2023","day":88,"pct":-0.9},{"year":"2023","day":95,"pct":-1.8},{"year":"2023","day":102,"pct":-1.2},{"year":"2023","day":109,"pct":-2.1},{"year":"2023","day":116,"pct":-1.5},{"year":"2023","day":123,"pct":-1.6},{"year":"2023","day":130,"pct":-0.8},{"year":"2023","day":137,"pct":-0.1},{"year":"2023","day":144,"pct":0.8},{"year":"2023","day":151,"pct":0.3},{"year":"2023","day":158,"pct":-0.3},{"year":"2023","day":165,"pct":-1.3},{"year":"2023","day":172,"pct":-0.8},{"year":"2023","day":179,"pct":-0.2},{"year":"2023","day":186,"pct":-0.1},{"year":"2023","day":193,"pct":-3.8},{"year":"2023","day":200,"pct":-2.7},{"year":"2023","day":207,"pct":-1.6},{"year":"2023","day":214,"pct":-1.1},{"year":"2023","day":221,"pct":-0.5},{"year":"2023","day":228,"pct":0.0},{"year":"2023","day":235,"pct":0.5},{"year":"2023","day":242,"pct":0.3},{"year":"2023","day":249,"pct":0.8},{"year":"2023","day":256,"pct":1.2},{"year":"2023","day":263,"pct":1.3},{"year":"2023","day":270,"pct":2.3},{"year":"2023","day":277,"pct":3.3},{"year":"2023","day":284,"pct":2.9},{"year":"2023","day":291,"pct":2.6},{"year":"2023","day":298,"pct":3.3},{"year":"2023","day":305,"pct":2.6},{"year":"2023","day":312,"pct":2.4},{"year":"2023","day":319,"pct":0.6},{"year":"2023","day":326,"pct":0.1},{"year":"2023","day":333,"pct":-0.5},{"year":"2023","day":340,"pct":-0.1},{"year":"2023","day":347,"pct":-1.6},{"year":"2023","day":352,"pct":-1.3},
{"year":"2024","day":-1,"pct":0},{"year":"2024","day":4,"pct":1.2},{"year":"2024","day":11,"pct":1.1},{"year":"2024","day":18,"pct":1.9},{"year":"2024","day":25,"pct":1.4},{"year":"2024","day":32,"pct":1.9},{"year":"2024","day":39,"pct":3.2},{"year":"2024","day":46,"pct":2.9},{"year":"2024","day":53,"pct":2.1},{"year":"2024","day":60,"pct":2.9},{"year":"2024","day":67,"pct":1.5},{"year":"2024","day":74,"pct":2.5},{"year":"2024","day":81,"pct":2.6},{"year":"2024","day":88,"pct":3.0},{"year":"2024","day":95,"pct":3.5},{"year":"2024","day":102,"pct":4.9},{"year":"2024","day":109,"pct":4.5},{"year":"2024","day":116,"pct":4.1},{"year":"2024","day":123,"pct":3.4},{"year":"2024","day":130,"pct":3.9},{"year":"2024","day":137,"pct":3.1},{"year":"2024","day":144,"pct":3.5},{"year":"2024","day":151,"pct":3.2},{"year":"2024","day":158,"pct":3.9},{"year":"2024","day":165,"pct":4.5},{"year":"2024","day":172,"pct":4.6},{"year":"2024","day":179,"pct":4.4},{"year":"2024","day":186,"pct":3.5},{"year":"2024","day":193,"pct":3.1},{"year":"2024","day":200,"pct":3.3},{"year":"2024","day":207,"pct":2.4},{"year":"2024","day":214,"pct":1.0},{"year":"2024","day":221,"pct":1.3},{"year":"2024","day":228,"pct":0.5},{"year":"2024","day":235,"pct":-0.8},{"year":"2024","day":242,"pct":0.3},{"year":"2024","day":249,"pct":0.1},{"year":"2024","day":256,"pct":-0.1},{"year":"2024","day":263,"pct":-0.8},{"year":"2024","day":270,"pct":-0.5},{"year":"2024","day":277,"pct":1.5},{"year":"2024","day":284,"pct":1.9},{"year":"2024","day":291,"pct":2.9},{"year":"2024","day":298,"pct":2.5},{"year":"2024","day":305,"pct":3.3},{"year":"2024","day":312,"pct":4.4},{"year":"2024","day":319,"pct":5.2},{"year":"2024","day":326,"pct":6.5},{"year":"2024","day":333,"pct":5.0},{"year":"2024","day":340,"pct":4.9},{"year":"2024","day":347,"pct":5.8},{"year":"2024","day":352,"pct":7.0},
{"year":"2025","day":-1,"pct":0},{"year":"2025","day":1,"pct":0.8},{"year":"2025","day":4,"pct":-0.1},{"year":"2025","day":6.8,"pct":0.5},{"year":"2025","day":10.7,"pct":1.4},{"year":"2025","day":13,"pct":0.6},{"year":"2025","day":14.4,"pct":0.8},{"year":"2025","day":17.9,"pct":0.75},{"year":"2025","day":19,"pct":-0.2},{"year":"2025","day":21.4,"pct":-0.4},{"year":"2025","day":22.8,"pct":-0.9},{"year":"2025","day":24.8,"pct":-1.0},{"year":"2025","day":26.9,"pct":-0.5},{"year":"2025","day":30.4,"pct":0.3},{"year":"2025","day":32,"pct":0.5},{"year":"2025","day":33.9,"pct":-0.6},{"year":"2025","day":36.6,"pct":-0.4},{"year":"2025","day":39,"pct":-0.1},{"year":"2025","day":40.8,"pct":-0.5},{"year":"2025","day":43.6,"pct":-1.6},{"year":"2025","day":46.4,"pct":-1.6},{"year":"2025","day":48.2,"pct":-1.2},{"year":"2025","day":49.1,"pct":-2.0},{"year":"2025","day":50.5,"pct":-1.7},{"year":"2025","day":54,"pct":-1.9},{"year":"2025","day":55.4,"pct":-1.9},{"year":"2025","day":57.5,"pct":-0.8},{"year":"2025","day":60.2,"pct":-1.5},{"year":"2025","day":62,"pct":-3.8},{"year":"2025","day":63.7,"pct":-4.1},{"year":"2025","day":67.2,"pct":-4.2},{"year":"2025","day":68.2,"pct":-4.6},{"year":"2025","day":70.7,"pct":-4.3},{"year":"2025","day":75.5,"pct":-4.8},{"year":"2025","day":78.3,"pct":-4.3},{"year":"2025","day":80.4,"pct":-4.0},{"year":"2025","day":83.5,"pct":-3.6},{"year":"2025","day":85.3,"pct":-4.1},{"year":"2025","day":89.4,"pct":-3.8},{"year":"2025","day":90.8,"pct":-4.3},{"year":"2025","day":91.5,"pct":-5.9},{"year":"2025","day":92.9,"pct":-5.0},{"year":"2025","day":95,"pct":-4.9},{"year":"2025","day":97.8,"pct":-5.1},{"year":"2025","day":99.1,"pct":-7.6},{"year":"2025","day":101.2,"pct":-8.0},{"year":"2025","day":102.6,"pct":-8.0},{"year":"2025","day":103.7,"pct":-7.6},{"year":"2025","day":104.7,"pct":-8.4},{"year":"2025","day":106.8,"pct":-8.6},{"year":"2025","day":109.3,"pct":-9.3},{"year":"2025","day":110.7,"pct":-9.1}
]},
"data": {"name": "dxy"},
"resolve": {"axis": {"x": "independent"}},
"layer": [
{
"transform": [{"filter": "datum.year != '2025'"}],
"mark": {"type": "line", "color": "#bdbdbd", "strokeWidth": 1.6, "opacity": 0.75, "strokeJoin": "round"},
"encoding": {
"x": {"field": "day", "type": "quantitative", "scale": {"domain": [-1.4, 353.2], "nice": false, "zero": false},
"axis": {"orient": "bottom", "values": [0,31,59,90,120,151,181,212,243,273,304,334], "labelExpr": "['Jan','Feb','Mar','Apr','May','Jun','Jul','Aug','Sep','Oct','Nov','Dec'][indexof([0,31,59,90,120,151,181,212,243,273,304,334], datum.value)]", "domain": false, "ticks": false, "grid": false, "labelFont": "Open Sans", "labelFontSize": 15, "labelColor": "#6b6b6b", "labelPadding": 6, "labelFlush": false, "labelOverlap": false,
"title": ["Source: Bloomberg; Cresset Capital.", "Chart #1305"], "titleX": -109, "titleY": 62, "titleAlign": "left", "titleAnchor": "start", "titleBaseline": "top", "titleAngle": 0, "titleFont": "Open Sans", "titleFontSize": 9, "titleLineHeight": 11, "titleFontWeight": "normal", "titleColor": "#222222"}},
"y": {"field": "pct", "type": "quantitative", "scale": {"domain": [-15, 25], "nice": false, "zero": false},
"axis": {"values": [-15,-10,-5,0,5,10,15,20,25], "labelExpr": "datum.value + '%'", "domain": false, "ticks": false, "grid": true, "gridColor": "#d9d9d9", "gridWidth": 1.5, "labelFont": "Open Sans", "labelFontSize": 15, "labelColor": "#6b6b6b", "labelPadding": 13,
"title": "DOLLAR INDEX SPOT Through Apr 22, 2025", "titleX": -94, "titleY": 266, "titleAngle": -90, "titleAlign": "center", "titleBaseline": "middle", "titleFont": "Open Sans", "titleFontSize": 12, "titleFontWeight": "normal", "titleColor": "#f25555"}},
"detail": {"field": "year", "type": "nominal"}
}
},
{
"transform": [{"filter": "datum.year == '2025'"}],
"mark": {"type": "line", "strokeWidth": 2.6, "strokeJoin": "round"},
"encoding": {
"x": {"field": "day", "type": "quantitative",
"axis": {"orient": "bottom", "offset": -200, "values": [0,31,59,90,120,151,181,212,243,273,304,334], "labels": false, "grid": false, "domain": true, "domainColor": "#2b2b2b", "domainWidth": 2, "ticks": true, "tickColor": "#2b2b2b", "tickWidth": 1.5, "tickSize": 4, "title": null, "zindex": 1}},
"y": {"field": "pct", "type": "quantitative"},
"color": {"field": "year", "type": "nominal", "scale": {"domain": ["2025"], "range": ["#000000"]},
"legend": {"orient": "none", "legendX": 162, "legendY": 17.5, "title": null, "symbolType": "stroke", "symbolSize": 2209, "symbolStrokeWidth": 3, "labelFont": "Open Sans", "labelFontSize": 15, "labelColor": "#333333", "labelOffset": 5, "padding": 0}}
}
}
]
}
